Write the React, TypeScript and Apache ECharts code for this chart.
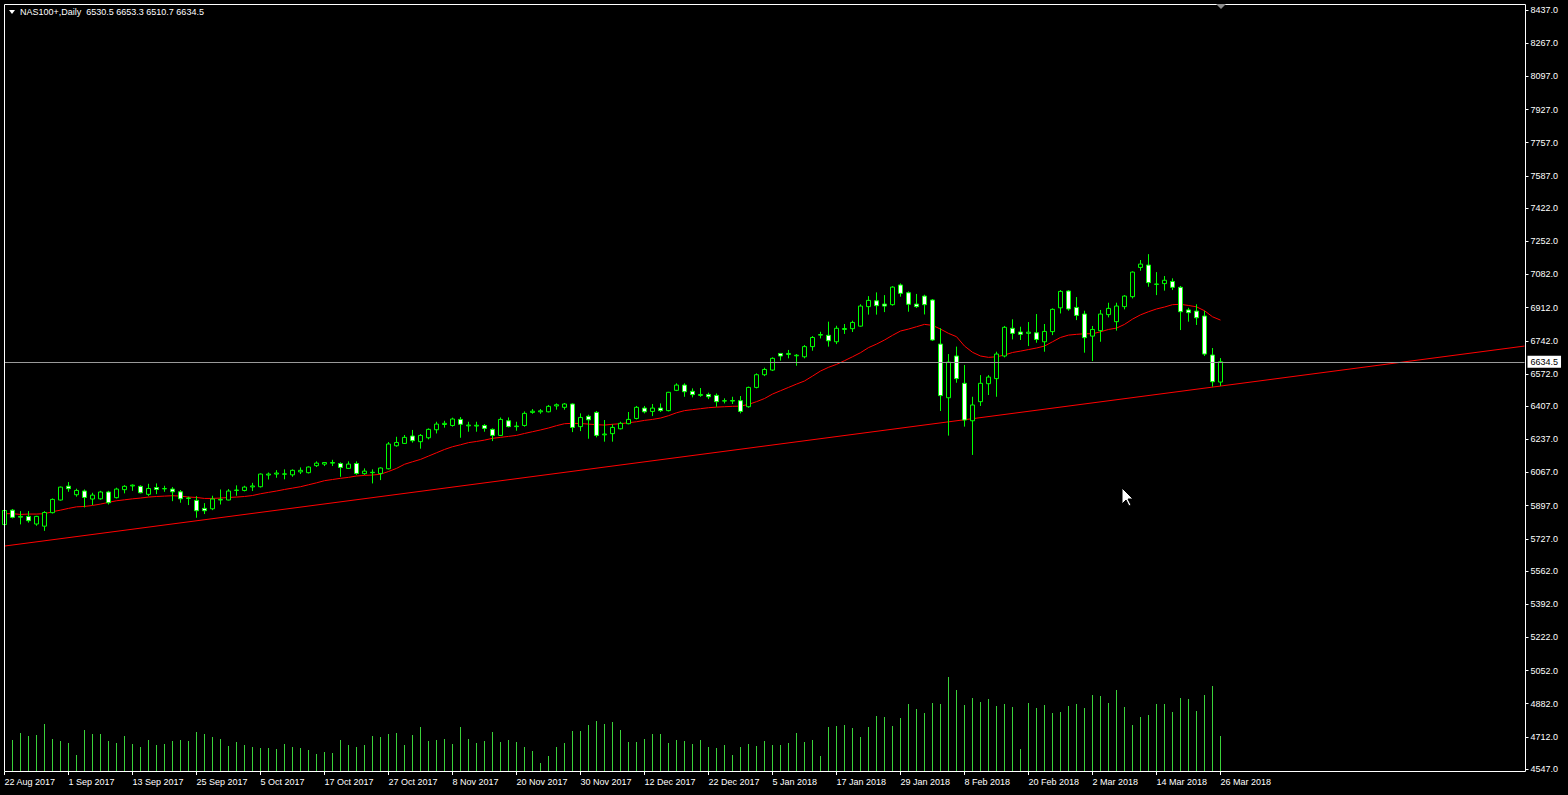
import React, { useEffect, useRef } from 'react';
import * as echarts from 'echarts';

const symbolTitle = 'NAS100+,Daily  6530.5 6653.3 6510.7 6634.5';

const dateTickLabels = [
  '22 Aug 2017', '1 Sep 2017', '13 Sep 2017', '25 Sep 2017', '5 Oct 2017', '17 Oct 2017',
  '27 Oct 2017', '8 Nov 2017', '20 Nov 2017', '30 Nov 2017', '12 Dec 2017', '22 Dec 2017',
  '5 Jan 2018', '17 Jan 2018', '29 Jan 2018', '8 Feb 2018', '20 Feb 2018', '2 Mar 2018',
  '14 Mar 2018', '26 Mar 2018',
];

const priceTicks = [
  8437, 8267, 8097, 7927, 7757, 7587, 7422, 7252, 7082, 6912, 6742, 6572,
  6407, 6237, 6067, 5897, 5727, 5562, 5392, 5222, 5052, 4882, 4712, 4547,
];

const opens = [
  5800, 5874, 5838, 5842, 5803, 5792, 5861, 5926, 5997, 5953,
  5972, 5931, 5932, 5967, 5938, 5979, 5998, 5996, 5955, 5990,
  5983, 5982, 5968, 5934, 5924, 5883, 5881, 5926, 5926, 5975,
  5975, 5993, 5994, 6054, 6059, 6058, 6055, 6070, 6066, 6102,
  6110, 6115, 6113, 6088, 6113, 6061, 6066, 6062, 6086, 6204,
  6216, 6254, 6225, 6245, 6286, 6313, 6308, 6339, 6306, 6305,
  6308, 6288, 6257, 6332, 6302, 6308, 6375, 6378, 6378, 6408,
  6401, 6418, 6302, 6355, 6375, 6260, 6266, 6291, 6317, 6344,
  6397, 6380, 6397, 6384, 6488, 6515, 6483, 6462, 6467, 6462,
  6433, 6433, 6435, 6404, 6503, 6568, 6592, 6677, 6672, 6665,
  6660, 6712, 6771, 6770, 6737, 6800, 6804, 6817, 6917, 6947,
  6930, 6927, 7028, 6988, 6930, 6971, 6951, 6725, 6450, 6664,
  6524, 6332, 6430, 6522, 6548, 6664, 6806, 6787, 6780, 6783,
  6737, 6789, 6911, 6997, 6913, 6879, 6766, 6794, 6876, 6840,
  6917, 6968, 7118, 7130, 7031, 7035, 7046, 7016, 6900, 6894,
  6869, 6669, 6530.5,
];

const highs = [
  5880, 5880, 5869, 5869, 5845, 5869, 5934, 5995, 6018, 5984,
  5980, 5963, 5973, 5973, 5989, 6002, 6006, 6001, 6009, 6011,
  5999, 5992, 5977, 5943, 5946, 5910, 5948, 5980, 5982, 6001,
  5999, 6014, 6062, 6067, 6079, 6083, 6083, 6093, 6098, 6124,
  6120, 6132, 6119, 6124, 6124, 6088, 6083, 6093, 6223, 6250,
  6259, 6285, 6264, 6293, 6327, 6332, 6348, 6351, 6327, 6327,
  6315, 6293, 6349, 6349, 6327, 6380, 6392, 6392, 6413, 6421,
  6423, 6421, 6370, 6363, 6382, 6336, 6314, 6327, 6377, 6408,
  6408, 6418, 6421, 6480, 6524, 6524, 6498, 6500, 6476, 6472,
  6447, 6455, 6459, 6507, 6575, 6604, 6657, 6679, 6695, 6674,
  6720, 6766, 6788, 6840, 6819, 6828, 6845, 6929, 6971, 6990,
  6976, 7022, 7036, 6995, 6982, 6978, 6956, 6806, 6674, 6712,
  6618, 6455, 6566, 6566, 6686, 6818, 6852, 6814, 6838, 6879,
  6828, 6908, 7002, 7002, 6966, 6896, 6818, 6900, 6937, 6937,
  6976, 7098, 7156, 7186, 7094, 7074, 7062, 7023, 6911, 6929,
  6896, 6705, 6653.3,
];

const lows = [
  5790, 5832, 5801, 5810, 5794, 5768, 5857, 5923, 5968, 5943,
  5888, 5900, 5928, 5903, 5934, 5960, 5973, 5960, 5946, 5956,
  5968, 5920, 5912, 5900, 5835, 5854, 5874, 5903, 5924, 5948,
  5970, 5972, 5990, 6031, 6040, 6032, 6045, 6059, 6062, 6095,
  6100, 6100, 6045, 6085, 6055, 6055, 6011, 6028, 6083, 6199,
  6213, 6220, 6189, 6237, 6267, 6297, 6302, 6245, 6276, 6276,
  6276, 6228, 6254, 6298, 6281, 6302, 6368, 6368, 6375, 6389,
  6389, 6274, 6279, 6240, 6247, 6225, 6225, 6288, 6314, 6339,
  6370, 6356, 6377, 6380, 6484, 6455, 6452, 6455, 6443, 6404,
  6421, 6418, 6370, 6399, 6498, 6561, 6587, 6640, 6652, 6614,
  6652, 6691, 6754, 6712, 6725, 6777, 6787, 6814, 6876, 6876,
  6889, 6922, 6968, 6891, 6910, 6877, 6741, 6382, 6256, 6527,
  6302, 6157, 6408, 6464, 6455, 6657, 6749, 6746, 6715, 6732,
  6686, 6771, 6882, 6896, 6848, 6681, 6638, 6737, 6862, 6794,
  6903, 6959, 7101, 7019, 6976, 6999, 7002, 6797, 6840, 6823,
  6664, 6507, 6510.7,
];

const closes = [
  5872, 5837, 5842, 5820, 5842, 5862, 5929, 5992, 5984, 5975,
  5939, 5951, 5967, 5912, 5982, 5996, 6002, 5963, 5985, 5980,
  5985, 5968, 5932, 5936, 5871, 5871, 5931, 5929, 5972, 5977,
  5992, 5998, 6059, 6059, 6064, 6060, 6078, 6078, 6095, 6115,
  6118, 6118, 6093, 6110, 6062, 6074, 6068, 6090, 6213, 6221,
  6247, 6230, 6257, 6288, 6315, 6319, 6341, 6314, 6310, 6309,
  6293, 6257, 6339, 6302, 6305, 6370, 6381, 6383, 6406, 6414,
  6418, 6298, 6349, 6337, 6257, 6264, 6298, 6319, 6339, 6401,
  6378, 6397, 6384, 6478, 6515, 6481, 6466, 6467, 6455, 6430,
  6435, 6436, 6380, 6503, 6568, 6595, 6652, 6664, 6677, 6668,
  6712, 6759, 6774, 6742, 6806, 6805, 6836, 6920, 6949, 6922,
  6920, 7017, 6985, 6929, 6917, 6927, 6746, 6461, 6633, 6548,
  6336, 6413, 6524, 6556, 6674, 6811, 6780, 6775, 6786, 6749,
  6790, 6903, 6995, 6905, 6872, 6758, 6800, 6879, 6908, 6920,
  6971, 7094, 7135, 7040, 7033, 7052, 7016, 6891, 6886, 6860,
  6674, 6532, 6634.5,
];

const maValues = [
  5856, 5856, 5852, 5854, 5854, 5856, 5866, 5874, 5883, 5891,
  5893, 5898, 5905, 5914, 5922, 5927, 5932, 5936, 5941, 5944,
  5946, 5948, 5946, 5941, 5939, 5934, 5934, 5936, 5939, 5941,
  5944, 5949, 5958, 5965, 5972, 5980, 5987, 5994, 6004, 6014,
  6025, 6031, 6037, 6042, 6049, 6052, 6054, 6058, 6072, 6088,
  6109, 6122, 6134, 6151, 6168, 6185, 6199, 6209, 6220, 6226,
  6233, 6242, 6247, 6252, 6257, 6267, 6276, 6285, 6295, 6307,
  6317, 6319, 6318, 6315, 6312, 6310, 6314, 6317, 6322, 6327,
  6334, 6339, 6346, 6358, 6373, 6384, 6389, 6394, 6399, 6402,
  6404, 6406, 6407, 6416, 6430, 6446, 6469, 6486, 6503, 6520,
  6536, 6561, 6587, 6606, 6621, 6640, 6660, 6681, 6707, 6725,
  6746, 6770, 6792, 6802, 6814, 6826, 6821, 6802, 6780, 6763,
  6715, 6683, 6664, 6657, 6660, 6669, 6682, 6689, 6697, 6705,
  6715, 6737, 6759, 6771, 6775, 6778, 6778, 6788, 6800, 6807,
  6826, 6853, 6875, 6891, 6905, 6915, 6927, 6929, 6923, 6916,
  6896, 6865, 6848,
];

const volumes = [
  27, 32, 39, 36, 37, 48, 33, 31, 29, 17,
  42, 38, 38, 31, 29, 36, 28, 25, 32, 27,
  28, 31, 32, 31, 40, 38, 35, 33, 26, 30,
  27, 25, 24, 24, 23, 28, 25, 24, 22, 18,
  20, 19, 32, 27, 25, 27, 36, 35, 38, 39,
  27, 37, 45, 31, 32, 33, 28, 45, 33, 29,
  31, 40, 30, 32, 30, 25, 21, 9, 16, 25,
  29, 41, 41, 47, 51, 48, 50, 42, 30, 30,
  33, 38, 38, 29, 32, 31, 28, 32, 25, 24,
  27, 17, 25, 28, 26, 31, 27, 27, 29, 39,
  30, 32, 16, 45, 46, 47, 44, 35, 45, 56,
  55, 46, 54, 68, 63, 59, 69, 68, 95, 82,
  67, 74, 70, 73, 66, 68, 65, 23, 69, 64,
  67, 59, 60, 66, 68, 64, 77, 76, 69, 82,
  65, 47, 55, 57, 68, 68, 60, 74, 73, 61,
  77, 86, 36,
];

const trendlineEnds = [5690, 6715];
const bidPrice = 6634.5;

const TOTAL_SLOTS = 191;
const LABEL_STEP = 8;
const FONT = 'Liberation Sans';

export default function App() {
  const ref = useRef<HTMLDivElement>(null);

  useEffect(() => {
    if (!ref.current) return;
    const chart = echarts.init(ref.current, undefined, { renderer: 'svg' });
    const lastIndex = closes.length - 1;
    const categories = Array.from({ length: TOTAL_SLOTS }, (_, i) => String(i));
    const showTick = (i: number) => i % LABEL_STEP === 0 && i / LABEL_STEP < dateTickLabels.length;
    const candleData = opens.map((o, i) => [o, closes[i], lows[i], highs[i]]);
    const trendData: (number | null)[] = Array(TOTAL_SLOTS).fill(null);
    trendData[0] = trendlineEnds[0];
    trendData[TOTAL_SLOTS - 1] = trendlineEnds[1];
    const lastX = 5 + lastIndex * 8;

    const option: any = {
      animation: false,
      backgroundColor: '#000000',
      grid: { left: 4.5, right: 43.5, top: 4, bottom: 23, containLabel: false },
      xAxis: {
        type: 'category',
        boundaryGap: false,
        data: categories,
        axisLine: { show: false },
        axisTick: {
          show: true,
          interval: (i: number) => showTick(i),
          length: 3,
          lineStyle: { color: '#ffffff', width: 1 },
        },
        axisLabel: {
          show: true,
          interval: (i: number) => showTick(i),
          formatter: (v: string) => {
            const idx = Number(v);
            return idx % LABEL_STEP === 0 ? dateTickLabels[idx / LABEL_STEP] ?? '' : '';
          },
          color: '#ffffff',
          fontFamily: FONT,
          fontSize: 9,
          align: 'left',
          margin: 5,
        },
        splitLine: { show: false },
      },
      yAxis: [
        {
          type: 'value',
          position: 'right',
          min: 4532,
          max: 8468,
          offset: 1,
          axisLine: { show: false },
          axisTick: {
            show: true,
            customValues: priceTicks,
            length: 3,
            lineStyle: { color: '#ffffff' },
          },
          axisLabel: {
            customValues: priceTicks,
            formatter: (v: number) => v.toFixed(1),
            color: '#ffffff',
            fontFamily: FONT,
            fontSize: 9,
            margin: 5,
          },
          splitLine: { show: false },
        },
        { type: 'value', min: 0, max: 768, show: false },
      ],
      series: [
        {
          type: 'bar',
          yAxisIndex: 1,
          data: volumes,
          barWidth: 1,
          itemStyle: { color: '#3ad23a' },
          silent: true,
          z: 1,
        },
        {
          type: 'line',
          data: trendData,
          connectNulls: true,
          showSymbol: false,
          lineStyle: { color: '#ff0000', width: 1 },
          silent: true,
          z: 2,
        },
        {
          type: 'line',
          data: maValues,
          showSymbol: false,
          lineStyle: { color: '#ff0000', width: 1 },
          silent: true,
          z: 3,
        },
        {
          type: 'candlestick',
          data: candleData,
          barWidth: 5,
          itemStyle: {
            color: '#000000',
            color0: '#ffffff',
            borderColor: '#00ff00',
            borderColor0: '#00ff00',
            borderWidth: 1,
          },
          z: 4,
          markLine: {
            silent: true,
            symbol: ['none', 'none'],
            lineStyle: { color: '#9a9a9a', width: 1, type: 'solid' },
            label: {
              show: true,
              position: 'end',
              formatter: () => bidPrice.toFixed(1),
              color: '#000000',
              backgroundColor: '#ffffff',
              fontFamily: FONT,
              fontSize: 9,
              padding: [2, 3, 1, 3],
              distance: 3,
            },
            data: [{ yAxis: bidPrice }],
          },
        },
      ],
      graphic: [
        {
          type: 'rect',
          silent: true,
          z: 10,
          shape: { x: 4.5, y: 4.5, width: 1521, height: 767 },
          style: { fill: 'none', stroke: '#ffffff', lineWidth: 1 },
        },
        {
          type: 'polygon',
          silent: true,
          z: 10,
          shape: { points: [[9, 10], [15, 10], [12, 14]] },
          style: { fill: '#ffffff' },
        },
        {
          type: 'text',
          silent: true,
          z: 10,
          x: 20,
          y: 12,
          style: {
            text: symbolTitle,
            fill: '#ffffff',
            font: `9px "${FONT}"`,
            verticalAlign: 'middle',
          },
        },
        {
          type: 'polygon',
          silent: true,
          z: 10,
          shape: { points: [[lastX - 5, 4], [lastX + 5, 4], [lastX, 9]] },
          style: { fill: '#8c8c8c' },
        },
        {
          type: 'polygon',
          silent: true,
          z: 10,
          shape: {
            points: [[1122, 488], [1122, 504], [1126, 500], [1129, 506], [1131, 505], [1128, 499], [1133, 499]],
          },
          style: { fill: '#ffffff', stroke: '#000000', lineWidth: 1 },
        },
      ],
    };

    chart.setOption(option);
    return () => chart.dispose();
  }, []);

  return (
    <div
      ref={ref}
      style={{ position: 'fixed', left: 0, top: 0, width: 1568, height: 795, background: '#000000' }}
    />
  );
}
